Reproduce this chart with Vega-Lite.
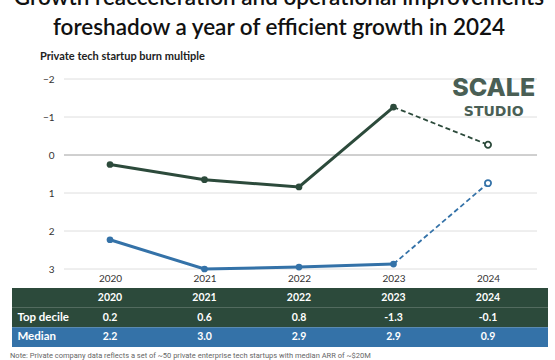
{
  "$schema": "https://vega.github.io/schema/vega-lite/v6.json",
  "background": "white",
  "padding": {"top": -14, "left": 10, "right": 8, "bottom": 2},
  "spacing": 5,
  "config": {
    "font": "Lato",
    "view": {"stroke": null},
    "axis": {"labelFont": "Lato", "labelColor": "#333333", "labelFontSize": 10, "labelOverlap": false}
  },
  "title": {
    "text": ["Growth reacceleration and operational improvements", "foreshadow a year of efficient growth in 2024"],
    "font": "Lato",
    "fontSize": 22.5,
    "fontWeight": 600,
    "lineHeight": 30,
    "color": "#111111",
    "anchor": "middle",
    "offset": 12
  },
  "datasets": {
    "burn": [
      {"series": "Top decile", "year": 2020, "value": 0.25, "label": "0.2"},
      {"series": "Top decile", "year": 2021, "value": 0.65, "label": "0.6"},
      {"series": "Top decile", "year": 2022, "value": 0.84, "label": "0.8"},
      {"series": "Top decile", "year": 2023, "value": -1.26, "label": "-1.3"},
      {"series": "Top decile", "year": 2024, "value": -0.27, "label": "-0.1"},
      {"series": "Median", "year": 2020, "value": 2.23, "label": "2.2"},
      {"series": "Median", "year": 2021, "value": 3.0, "label": "3.0"},
      {"series": "Median", "year": 2022, "value": 2.95, "label": "2.9"},
      {"series": "Median", "year": 2023, "value": 2.87, "label": "2.9"},
      {"series": "Median", "year": 2024, "value": 0.74, "label": "0.9"}
    ],
    "grid": [
      {"value": -2}, {"value": -1}, {"value": 0}, {"value": 1}, {"value": 2}, {"value": 3}
    ],
    "rows": [
      {"row": "header"}, {"row": "Top decile"}, {"row": "Median"}
    ],
    "years": [
      {"year": 2020}, {"year": 2021}, {"year": 2022}, {"year": 2023}, {"year": 2024}
    ],
    "logo": [
      {"word": "SCALE", "value": -1.76},
      {"word": "STUDIO", "value": -1.14}
    ]
  },
  "vconcat": [
    {
      "width": 536,
      "height": 190,
      "title": {
        "text": "Private tech startup burn multiple",
        "anchor": "start",
        "dx": 28,
        "fontSize": 11,
        "fontWeight": 700,
        "color": "#222222",
        "offset": 12
      },
      "encoding": {
        "y": {
          "field": "value", "type": "quantitative",
          "scale": {"domain": [-2, 3], "reverse": true, "nice": false, "zero": false},
          "axis": {"values": [-2, -1, 0, 1, 2, 3], "grid": false, "ticks": false, "domain": false, "offset": -45, "labelPadding": 3, "title": null}
        }
      },
      "layer": [
        {
          "data": {"name": "grid"},
          "mark": {"type": "rule", "strokeWidth": 1},
          "encoding": {
            "x": {"datum": 2019.513, "type": "quantitative",
              "scale": {"domain": [2018.963, 2024.635], "nice": false, "zero": false},
              "axis": {"values": [2020, 2021, 2022, 2023, 2024], "format": "d", "grid": false, "ticks": false, "domain": false, "labelPadding": 4, "title": null}},
            "x2": {"datum": 2024.519},
            "color": {"condition": {"test": "datum.value === 0", "value": "#a0a0a0"}, "value": "#dedede"}
          }
        },
        {
          "data": {"name": "burn"},
          "transform": [{"filter": "datum.year <= 2023"}],
          "mark": {"type": "line", "strokeWidth": 3},
          "encoding": {
            "x": {"field": "year", "type": "quantitative", "title": null},
            "color": {"field": "series", "type": "nominal", "scale": {"domain": ["Top decile", "Median"], "range": ["#2c4a3b", "#3472a8"]}, "legend": null}
          }
        },
        {
          "data": {"name": "burn"},
          "transform": [{"filter": "datum.year >= 2023"}],
          "mark": {"type": "line", "strokeWidth": 1.8, "strokeDash": [5, 3]},
          "encoding": {
            "x": {"field": "year", "type": "quantitative", "title": null},
            "color": {"field": "series", "type": "nominal", "legend": null}
          }
        },
        {
          "data": {"name": "burn"},
          "transform": [{"filter": "datum.year <= 2023"}],
          "mark": {"type": "point", "filled": true, "size": 45, "opacity": 1},
          "encoding": {
            "x": {"field": "year", "type": "quantitative", "title": null},
            "color": {"field": "series", "type": "nominal", "legend": null}
          }
        },
        {
          "data": {"name": "burn"},
          "transform": [{"filter": "datum.year == 2024"}],
          "mark": {"type": "point", "filled": false, "fill": "white", "size": 38, "strokeWidth": 1.8, "opacity": 1},
          "encoding": {
            "x": {"field": "year", "type": "quantitative", "title": null},
            "color": {"field": "series", "type": "nominal", "legend": null}
          }
        },
        {
          "data": {"name": "logo"},
          "transform": [{"filter": "datum.word === 'SCALE'"}],
          "mark": {"type": "text", "font": "Inter", "fontWeight": 800, "fontSize": 25, "color": "#4a5f55", "align": "center", "baseline": "middle"},
          "encoding": {
            "x": {"datum": 2024.06, "type": "quantitative"},
            "text": {"field": "word"}
          }
        },
        {
          "data": {"name": "logo"},
          "transform": [{"filter": "datum.word === 'STUDIO'"}],
          "mark": {"type": "text", "font": "DejaVu Sans", "fontWeight": 700, "fontSize": 14, "color": "#4a5f55", "align": "center", "baseline": "middle"},
          "encoding": {
            "x": {"datum": 2024.06, "type": "quantitative"},
            "text": {"field": "word"}
          }
        }
      ]
    },
    {
      "width": 536,
      "height": 59,
      "title": {
        "text": "Note: Private company data reflects a set of ~50 private enterprise tech startups with median ARR of ~$20M",
        "orient": "bottom",
        "anchor": "start",
        "dx": -2,
        "offset": 5,
        "font": "Roboto",
        "fontSize": 7.5,
        "fontWeight": 400,
        "color": "#666666"
      },
      "layer": [
        {
          "data": {"name": "rows"},
          "mark": {"type": "rect"},
          "encoding": {
            "y": {"field": "row", "type": "nominal", "scale": {"domain": ["header", "Top decile", "Median"], "paddingInner": 0, "paddingOuter": 0}, "axis": null},
            "color": {"field": "row", "type": "nominal", "scale": {"domain": ["header", "Top decile", "Median"], "range": ["#1f1f1f", "#2d4a3c", "#2f6ba2"]}, "legend": null}
          }
        },
        {
          "data": {"name": "years"},
          "mark": {"type": "text", "color": "white", "fontWeight": 700, "fontSize": 10.5, "baseline": "middle"},
          "encoding": {
            "x": {"field": "year", "type": "quantitative", "scale": {"domain": [2018.963, 2024.635], "nice": false, "zero": false}, "axis": null},
            "y": {"datum": "header", "type": "nominal"},
            "text": {"field": "year"}
          }
        },
        {
          "data": {"name": "rows"},
          "transform": [{"filter": "datum.row !== 'header'"}],
          "mark": {"type": "text", "color": "white", "fontWeight": 700, "fontSize": 11.5, "align": "left", "baseline": "middle"},
          "encoding": {
            "x": {"datum": 2019.02, "type": "quantitative"},
            "y": {"field": "row", "type": "nominal"},
            "text": {"field": "row"}
          }
        },
        {
          "data": {"name": "burn"},
          "mark": {"type": "text", "color": "white", "fontWeight": 700, "fontSize": 10.5, "baseline": "middle"},
          "encoding": {
            "x": {"field": "year", "type": "quantitative"},
            "y": {"field": "series", "type": "nominal"},
            "text": {"field": "label"}
          }
        }
      ]
    }
  ]
}
